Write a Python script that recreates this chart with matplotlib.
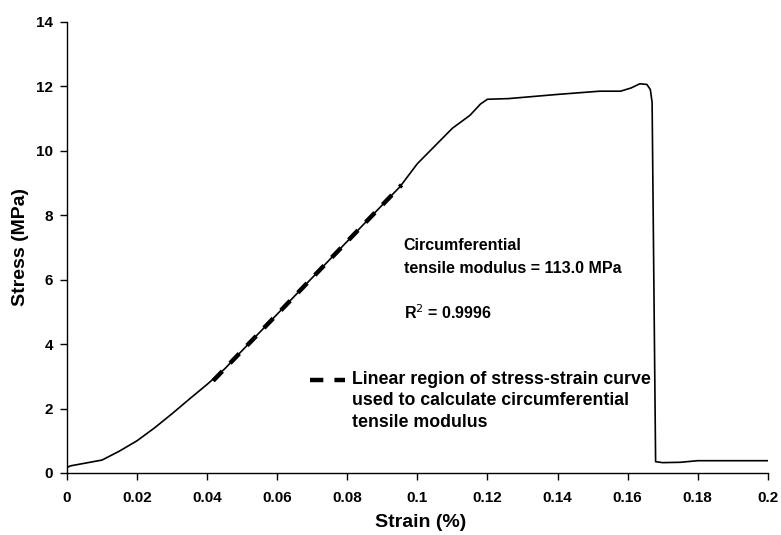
import matplotlib
matplotlib.use("Agg")
import matplotlib.pyplot as plt
import numpy as np

plt.rcParams['font.family'] = ['Liberation Sans', 'DejaVu Sans']

# Stress-strain curve (strain in %, stress in MPa)
strain = [0.0, 0.001, 0.005, 0.010, 0.015, 0.020, 0.025, 0.030, 0.035, 0.040,
          0.045, 0.050, 0.060, 0.070, 0.080, 0.090, 0.095, 0.100, 0.105, 0.110,
          0.115, 0.118, 0.120, 0.126, 0.140, 0.152, 0.158, 0.161, 0.1635, 0.1655,
          0.1665, 0.1670, 0.1680, 0.170, 0.175, 0.180, 0.190, 0.200]
stress = [0.17, 0.22, 0.30, 0.40, 0.68, 1.00, 1.40, 1.84, 2.30, 2.75,
          3.23, 3.80, 4.93, 6.06, 7.19, 8.32, 8.88, 9.60, 10.15, 10.70,
          11.10, 11.45, 11.60, 11.62, 11.75, 11.85, 11.85, 11.95, 12.08, 12.06,
          11.90, 11.50, 0.35, 0.32, 0.33, 0.38, 0.38, 0.38]

# Linear fit region
fit_strain = [0.0417, 0.0955]
fit_stress = [2.86, 8.94]

xticks = [0, 0.02, 0.04, 0.06, 0.08, 0.1, 0.12, 0.14, 0.16, 0.18, 0.2]
xticklabels = ['0', '0.02', '0.04', '0.06', '0.08', '0.1', '0.12', '0.14', '0.16', '0.18', '0.2']
yticks = [0, 2, 4, 6, 8, 10, 12, 14]

annot_lines = ['Circumferential', 'tensile modulus = 113.0 MPa']
r2_text = r'R$^2$ = 0.9996'
legend_lines = ['Linear region of stress-strain curve',
                'used to calculate circumferential',
                'tensile modulus']

fig = plt.figure(figsize=(7.81, 5.35), dpi=100)
ax = fig.add_axes([0.0858, 0.116, 0.8972, 0.843])

ax.plot(strain, stress, color='black', lw=1.2)
ax.plot(fit_strain, fit_stress, color='black', lw=3.2, dashes=(3, 2.5))

ax.set_xlim(0, 0.2)
ax.set_ylim(0, 14)
ax.set_xticks(xticks)
ax.set_xticklabels(xticklabels)
ax.set_yticks(yticks)
ax.tick_params(direction='out', length=5, width=1, labelsize=11, colors='black')
ax.tick_params(axis='x', pad=8)
ax.tick_params(axis='y', pad=5)
for lab in ax.get_xticklabels() + ax.get_yticklabels():
    lab.set_fontweight('bold')
ax.spines['top'].set_visible(False)
ax.spines['right'].set_visible(False)
ax.spines['left'].set_linewidth(1)
ax.spines['bottom'].set_linewidth(1)

ax.set_xlabel('Strain (%)', fontsize=14, fontweight='bold')
ax.set_ylabel('Stress (MPa)', fontsize=14, fontweight='bold')
ax.xaxis.label.set_va('center')
ax.xaxis.set_label_coords(0.504, -0.109)
ax.yaxis.set_label_coords(-0.054, 0.5)

for txt, yv in zip(annot_lines, [7.05, 6.34]):
    ax.text(0.0961, yv, txt, fontsize=11.5, fontweight='bold', va='center', ha='left')
ax.text(0.0961, 4.97, r2_text, fontsize=11.5, fontweight='bold', va='center', ha='left')

# legend-like annotation
ax.plot([0.0693, 0.0793], [2.89, 2.89], color='black', lw=3.2, dashes=(3, 2.5))
for txt, yv in zip(legend_lines, [2.89, 2.24, 1.58]):
    ax.text(0.0813, yv, txt, fontsize=12.8, fontweight='bold', va='center', ha='left')

fig.savefig('out.png', dpi=100)
